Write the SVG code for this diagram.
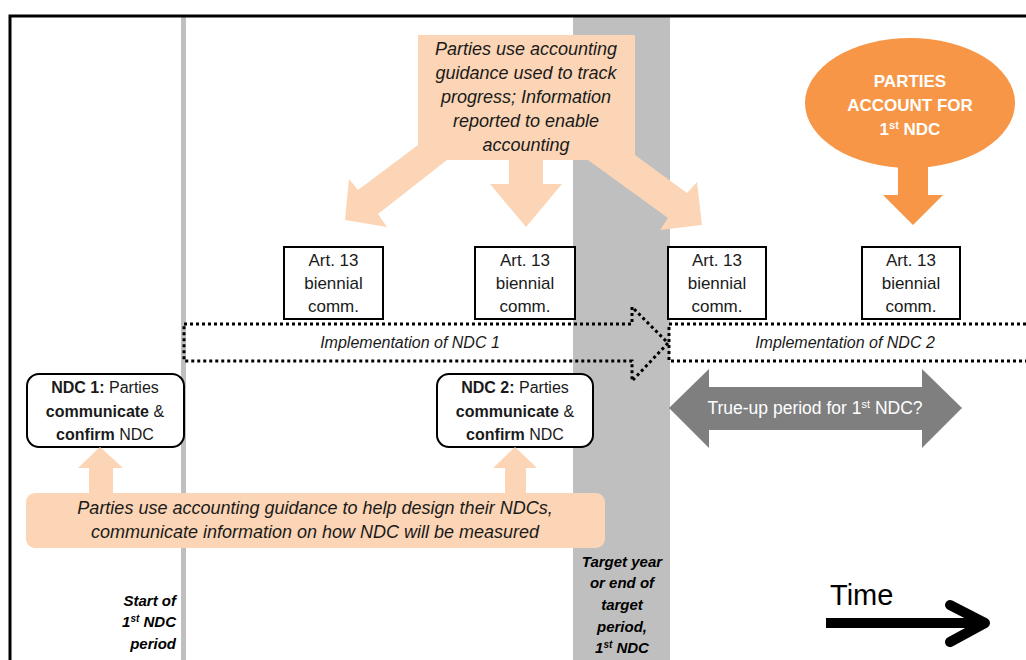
<svg xmlns="http://www.w3.org/2000/svg" width="1026" height="660" viewBox="0 0 1026 660">
<style>
text{font-family:"Liberation Sans",Arial,sans-serif;fill:#1a1a1a}
.peach{fill:#FBD5B5}
.box{fill:#fff;stroke:#000;stroke-width:2}
.rbox{fill:#fff;stroke:#000;stroke-width:2}
.art{font-size:17px;text-anchor:middle}
.call{font-size:18px;font-style:italic;text-anchor:middle}
.impl{font-size:16px;font-style:italic;text-anchor:middle}
.dot{fill:none;stroke:#000;stroke-width:3;stroke-dasharray:3 3}
.ndc{font-size:16px;text-anchor:middle}
.lab{font-size:15px;font-weight:bold;font-style:italic;fill:#000}
.b{font-weight:bold}
</style>
<rect width="1026" height="660" fill="#fff"/>
<g id="background">
<rect x="573" y="17" width="97" height="643" fill="#BFBFBF"/>
<rect x="181" y="17" width="5" height="643" fill="#BFBFBF"/>
<path d="M10,660 V16 H1026" fill="none" stroke="#000" stroke-width="3"/>
</g>
<g id="callout-top">
<polygon class="peach" points="418,35 635,35 635,155 687,193 697,182 702,225 660,230 668,218 588,160 543,160 543,184 562,184 526,227 490,184 509,184 509,160 447,160 378,214 387,227 345,220 349,179 358,190 418,145"/>
<text class="call" x="526" y="55">Parties use accounting</text>
<text class="call" x="526" y="79">guidance used to track</text>
<text class="call" x="526" y="103">progress; Information</text>
<text class="call" x="526" y="127">reported to enable</text>
<text class="call" x="526" y="151">accounting</text>
</g>
<g id="account">
<ellipse cx="910" cy="103" rx="105" ry="65" fill="#F79646"/>
<text x="910" y="87" font-size="17" font-weight="bold" text-anchor="middle" style="fill:#fff">PARTIES</text>
<text x="910" y="111" font-size="17" font-weight="bold" text-anchor="middle" style="fill:#fff">ACCOUNT FOR</text>
<text x="910" y="135" font-size="17" font-weight="bold" text-anchor="middle" style="fill:#fff">1<tspan font-size="11" baseline-shift="super">st</tspan> NDC</text>
</g>
<g id="art13-1">
<rect class="box" x="284" y="247" width="99" height="72"/>
<text class="art" x="333.5" y="266">Art. 13</text>
<text class="art" x="333.5" y="289">biennial</text>
<text class="art" x="333.5" y="312">comm.</text>
</g>
<g id="art13-2">
<rect class="box" x="475" y="247" width="100" height="72"/>
<text class="art" x="525" y="266">Art. 13</text>
<text class="art" x="525" y="289">biennial</text>
<text class="art" x="525" y="312">comm.</text>
</g>
<g id="art13-3">
<rect class="box" x="668" y="247" width="98" height="72"/>
<text class="art" x="717" y="266">Art. 13</text>
<text class="art" x="717" y="289">biennial</text>
<text class="art" x="717" y="312">comm.</text>
</g>
<g id="art13-4">
<rect class="box" x="862" y="247" width="98" height="72"/>
<text class="art" x="911" y="266">Art. 13</text>
<text class="art" x="911" y="289">biennial</text>
<text class="art" x="911" y="312">comm.</text>
</g>
<g id="impl1">
<path class="dot" d="M184,324 H632 V307 L668,343 L632,381 V361 H184 Z"/>
<text class="impl" x="410" y="348">Implementation of NDC 1</text>
</g>
<g id="impl2">
<path class="dot" d="M1026,324 H669 V361 H1026"/>
<text class="impl" x="845" y="348">Implementation of NDC 2</text>
</g>
<g id="ndc1">
<rect class="rbox" x="27" y="374" width="157" height="73" rx="12"/>
<text class="ndc" x="105" y="393"><tspan class="b">NDC 1:</tspan> Parties</text>
<text class="ndc" x="105" y="417"><tspan class="b">communicate</tspan> &amp;</text>
<text class="ndc" x="105" y="440"><tspan class="b">confirm</tspan> NDC</text>
</g>
<g id="ndc2">
<rect class="rbox" x="437" y="374" width="156" height="73" rx="12"/>
<text class="ndc" x="515" y="393"><tspan class="b">NDC 2:</tspan> Parties</text>
<text class="ndc" x="515" y="417"><tspan class="b">communicate</tspan> &amp;</text>
<text class="ndc" x="515" y="440"><tspan class="b">confirm</tspan> NDC</text>
</g>
<g id="trueup">
<polygon points="669,408 709,369 709,387 922,387 922,369 962,408 922,448 922,430 709,430 709,448" fill="#7F7F7F"/>
<text x="815" y="414" font-size="17.5" text-anchor="middle" style="fill:#fff">True-up period for 1<tspan font-size="11" baseline-shift="super">st</tspan> NDC?</text>
</g>
<g id="callout-bottom">
<rect class="peach" x="26" y="493" width="579" height="55" rx="9"/>
<text class="call" x="315" y="514">Parties use accounting guidance to help design their NDCs,</text>
<text class="call" x="315" y="538">communicate information on how NDC will be measured</text>
</g>
<g id="connectors">
<polygon class="peach" points="89,494 89,468 78,468 100,447 123,468 113,468 113,494"/>
<polygon class="peach" points="505,494 505,468 493,468 515,447 537,468 526,468 526,494"/>
<polygon points="898,166 928,166 928,195 943,195 913,225 883,195 898,195" fill="#F79646"/>
</g>
<g id="start-label">
<text class="lab" x="176" y="606" text-anchor="end">Start of</text>
<text class="lab" x="176" y="627" text-anchor="end">1<tspan font-size="10" baseline-shift="super">st</tspan> NDC</text>
<text class="lab" x="176" y="649" text-anchor="end">period</text>
</g>
<g id="target-label">
<text class="lab" x="622" y="567" text-anchor="middle">Target year</text>
<text class="lab" x="622" y="588" text-anchor="middle">or end of</text>
<text class="lab" x="622" y="610" text-anchor="middle">target</text>
<text class="lab" x="622" y="632" text-anchor="middle">period,</text>
<text class="lab" x="622" y="653" text-anchor="middle">1<tspan font-size="10" baseline-shift="super">st</tspan> NDC</text>
</g>
<g id="time">
<text x="830" y="605" font-size="29" style="fill:#000">Time</text>
<line x1="826" y1="623" x2="982" y2="623" stroke="#000" stroke-width="10"/>
<polyline points="950,605 985,623 950,642" fill="none" stroke="#000" stroke-width="10" stroke-linecap="round" stroke-linejoin="round"/>
</g>
</svg>
